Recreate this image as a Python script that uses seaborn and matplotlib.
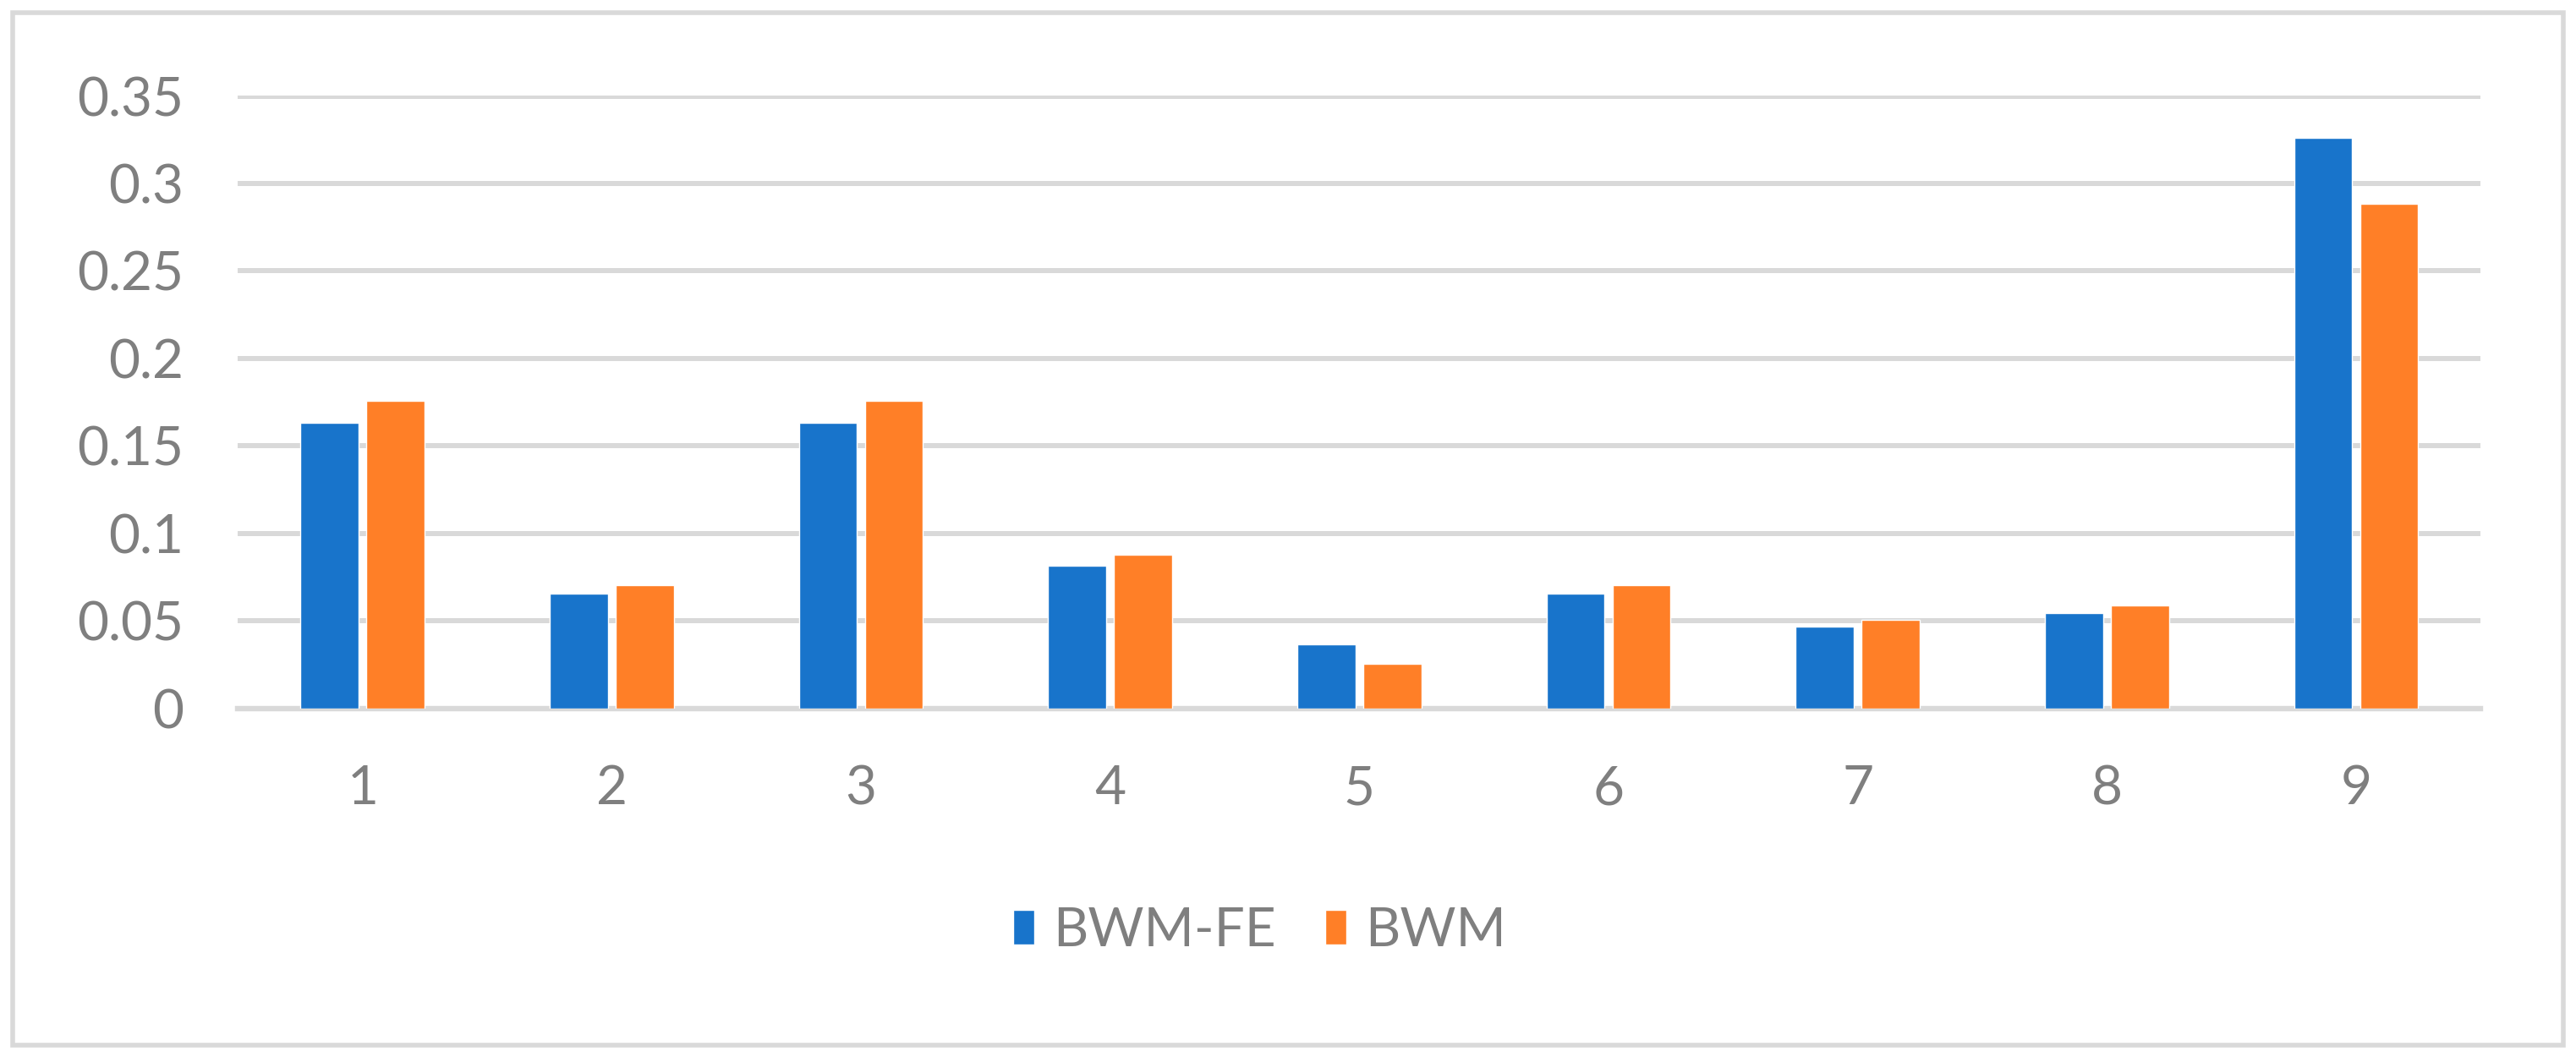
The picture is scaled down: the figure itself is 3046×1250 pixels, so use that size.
import matplotlib

matplotlib.use("Agg")
import matplotlib.pyplot as plt
import pandas as pd
import seaborn as sns
from matplotlib.patches import Rectangle

# values
criteria = ["1", "2", "3", "4", "5", "6", "7", "8", "9"]
bwm_fe = [0.163, 0.0654, 0.163, 0.0815, 0.0367, 0.0656, 0.0468, 0.0544, 0.3259]
bwm = [0.1757, 0.0704, 0.1757, 0.0878, 0.0256, 0.0704, 0.0505, 0.0589, 0.2882]
series_names = ["BWM-FE", "BWM"]
series_colors = ["#1874CB", "#FF7F27"]
y_ticks = [0, 0.05, 0.1, 0.15, 0.2, 0.25, 0.3, 0.35]
y_tick_labels = ["0", "0.05", "0.1", "0.15", "0.2", "0.25", "0.3", "0.35"]

GRID = "#D9D9D9"
TEXT = "#7F7F7F"
FONT_SIZE = 46

df = pd.DataFrame(
    {
        "criterion": criteria * 2,
        "weight": bwm_fe + bwm,
        "method": [series_names[0]] * len(criteria) + [series_names[1]] * len(criteria),
    }
)

sns.set_style("white")
plt.rcParams["font.family"] = ["Lato", "DejaVu Sans"]

fig = plt.figure(figsize=(30.46, 12.5), dpi=100)
ax = fig.add_axes([0.0924, 0.330, 0.8706, 0.580])

sns.barplot(
    data=df,
    x="criterion",
    y="weight",
    hue="method",
    hue_order=series_names,
    order=criteria,
    palette=series_colors,
    width=0.53,
    gap=0.12,
    saturation=1.0,
    ax=ax,
    legend=True,
)

ax.set_xlim(-0.5, len(criteria) - 0.5)
ax.set_ylim(0, 0.3505)
ax.set_yticks(y_ticks)
ax.set_yticklabels(y_tick_labels)
ax.yaxis.grid(True, color=GRID, linewidth=4.3)
ax.xaxis.grid(False)
ax.set_axisbelow(True)
for side in ["top", "right", "left"]:
    ax.spines[side].set_visible(False)
ax.spines["bottom"].set_color(GRID)
ax.spines["bottom"].set_linewidth(4.6)
ax.spines["bottom"].set_zorder(0.5)
ax.tick_params(axis="both", length=0, labelsize=FONT_SIZE, labelcolor=TEXT)
ax.tick_params(axis="y", pad=46)
ax.tick_params(axis="x", pad=48)
ax.set_xlabel("")
ax.set_ylabel("")

handles, labels = ax.get_legend_handles_labels()
ax.get_legend().remove()
fig.legend(
    handles,
    labels,
    loc="center",
    bbox_to_anchor=(0.489, 0.119),
    ncol=2,
    frameon=False,
    fontsize=FONT_SIZE,
    labelcolor=TEXT,
    handlelength=0.4,
    handleheight=0.62,
    handletextpad=0.35,
    columnspacing=0.9,
)

# light gray frame around the whole chart
fig.patches.append(
    Rectangle(
        (0.005, 0.011),
        0.99,
        0.977,
        transform=fig.transFigure,
        fill=False,
        edgecolor=GRID,
        linewidth=4.0,
    )
)

fig.savefig("out.png", dpi=100, facecolor="white")
plt.close(fig)
